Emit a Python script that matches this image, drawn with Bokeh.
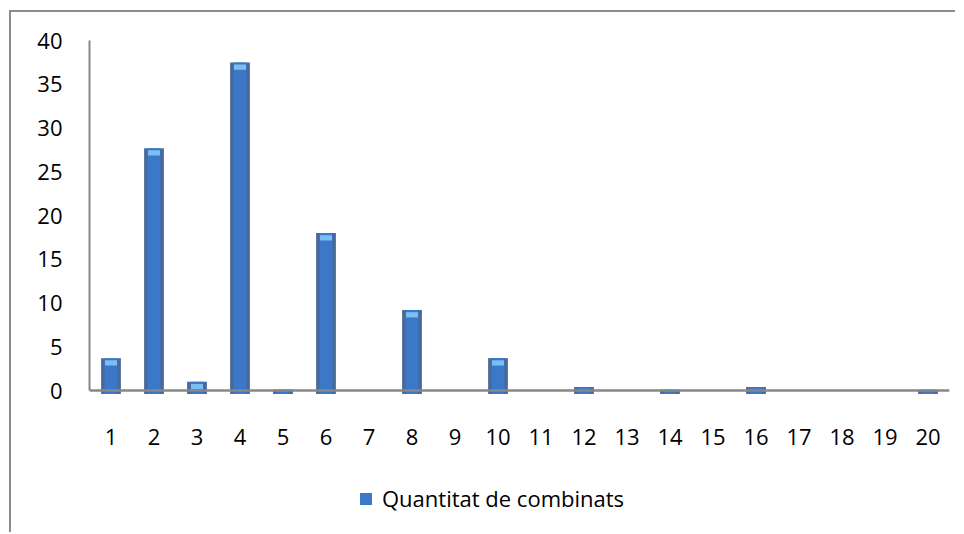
import numpy as np
from bokeh.plotting import figure
from bokeh.models import Range1d, Span, Legend, LegendItem, ColumnDataSource, FactorRange
from bokeh.core.properties import value
from bokeh.embed import file_html
from bokeh.resources import INLINE

categories = [str(i) for i in range(1, 21)]
values = [3.7, 27.7, 1.0, 37.5, 0.1, 18.0, 0.0, 9.2, 0.0, 3.7,
          0.0, 0.4, 0.0, 0.1, 0.0, 0.4, 0.0, 0.0, 0.0, 0.1]
y_ticks = [0, 5, 10, 15, 20, 25, 30, 35, 40]
series_name = "Quantitat de combinats"

FONT = "Open Sans"
FS = "22px"
Y_MIN = -16.0
BAR_BASE = -0.4
XLAB_Y = -5.37

vals = np.array(values)
has = vals > 0
src_x = [c for c, h in zip(categories, has) if h]
src_v = vals[has]
cap_mask = src_v > 0.6
source = ColumnDataSource(dict(x=src_x, top=src_v))
cap_source = ColumnDataSource(dict(x=[c for c, m in zip(src_x, cap_mask) if m],
                                   top=src_v[cap_mask] - 0.25,
                                   bottom=src_v[cap_mask] - 0.85))
lab_source = ColumnDataSource(dict(x=categories, y=[XLAB_Y] * len(categories), t=categories))

p = figure(x_range=FactorRange(*categories, range_padding=0), y_range=Range1d(Y_MIN, 40),
           width=946, height=522, output_backend="svg", toolbar_location=None,
           x_axis_location=None,
           min_border_left=78, min_border_top=28, min_border_right=8, min_border_bottom=4)
p.styles = {"border-left": "2px solid #8c8c8c", "border-top": "2px solid #8c8c8c",
            "margin-left": "9px", "margin-top": "10px"}
p.x_range.factor_padding = 0
p.outline_line_color = None
p.grid.visible = False
p.background_fill_color = "white"

outer = p.vbar(x="x", top="top", bottom=BAR_BASE, width=0.46, source=source,
               fill_color="#48699a", line_color=None)
inner = p.vbar(x="x", top="top", bottom=BAR_BASE, width=0.30, source=source,
               fill_color="#3b78c8", line_color=None)
p.vbar(x="x", top="top", bottom="bottom", width=0.28, source=cap_source,
       fill_color="#7dbef2", line_color=None)

p.add_layout(Span(location=0, dimension="width", line_color="#878787", line_width=2.5))

p.text(x="x", y="y", text="t", source=lab_source, text_align="center",
       text_baseline="middle", text_font=value(FONT), text_font_size=FS, text_color="black")

p.yaxis.ticker = y_ticks
p.yaxis.bounds = (0, 40)
p.yaxis.axis_line_color = "#878787"
p.yaxis.axis_line_width = 2
p.yaxis.major_tick_line_color = None
p.yaxis.minor_tick_line_color = None
p.yaxis.major_label_text_font = FONT
p.yaxis.major_label_text_font_size = FS
p.yaxis.major_label_text_color = "black"
p.yaxis.major_label_standoff = 21

legend = Legend(items=[LegendItem(label=series_name, renderers=[outer, inner])],
                location=(269, 17), orientation="horizontal",
                padding=0, margin=0, spacing=0,
                glyph_width=15, glyph_height=15, label_standoff=9,
                border_line_color=None, background_fill_alpha=0,
                label_text_font=FONT, label_text_font_size=FS, label_text_color="black")
p.add_layout(legend, "center")

open("out.html", "w").write(file_html(p, INLINE))
